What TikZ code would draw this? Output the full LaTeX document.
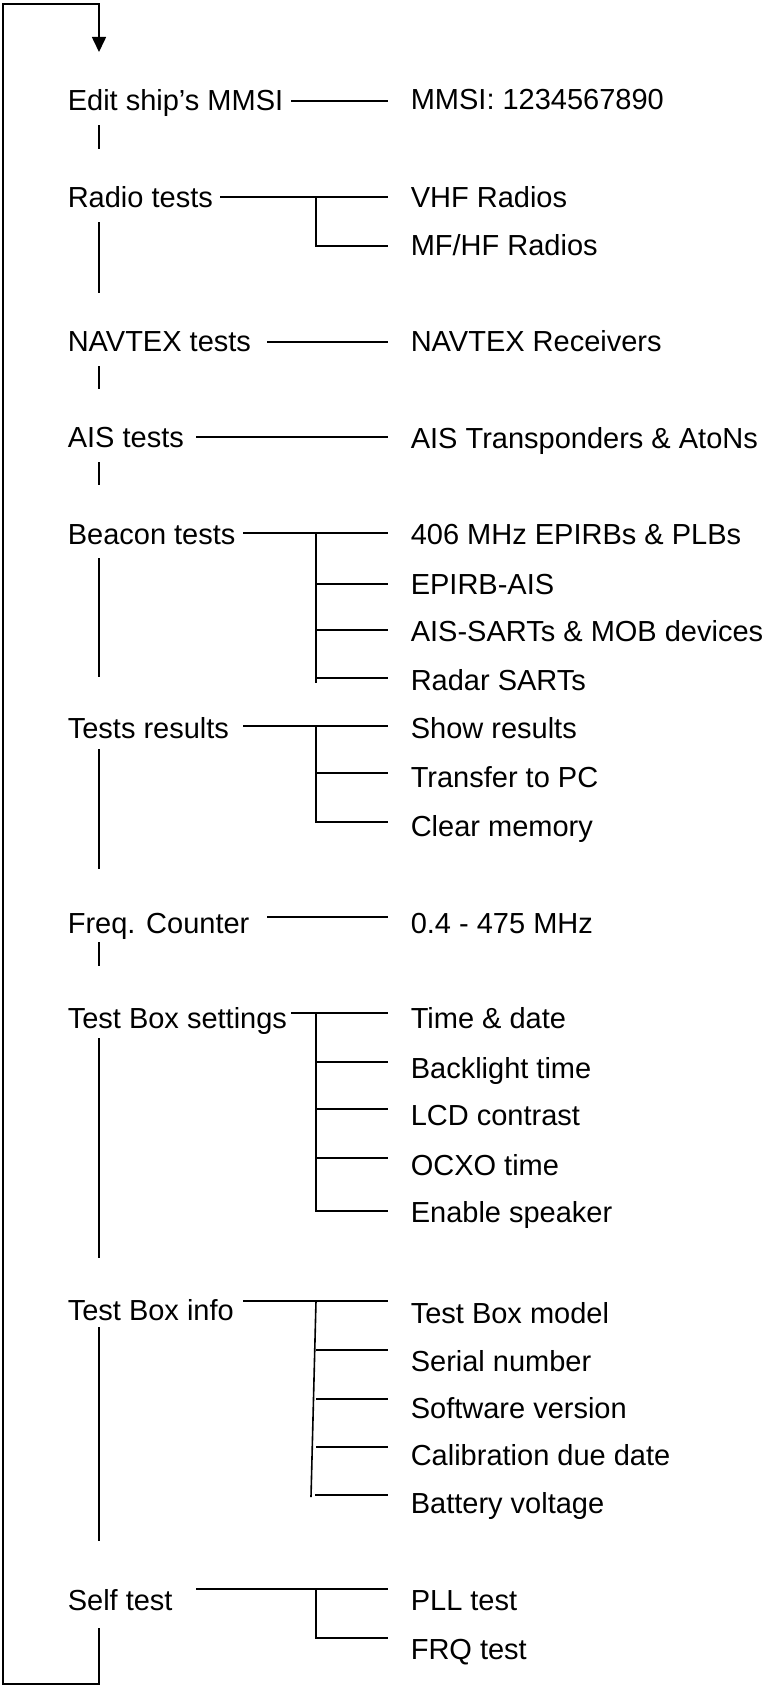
\documentclass[tikz,border=0pt]{standalone}
\usepackage{fontspec}
\setmainfont{Liberation Sans}
\usetikzlibrary{arrows.meta}

\begin{document}
\begin{tikzpicture}[x=1pt, y=-1pt, line width=1.6pt,
    item/.style={anchor=west, inner sep=0pt, text height=20.8pt, text depth=0pt,
                 font=\fontsize{29}{34}\selectfont}]

    \useasboundingbox (0,0) rectangle (770,1686);

    % main menu
    \node[item] (edit)     at (67,100)  {Edit ship’s MMSI};
    \node[item] (radio)    at (67,197)  {Radio tests};
    \node[item] (navtex)   at (67,341)  {NAVTEX tests};
    \node[item] (ais)      at (67,437)  {AIS tests};
    \node[item] (beacon)   at (67,534)  {Beacon tests};
    \node[item] (results)  at (67,728)  {Tests results};
    \node[item] (freq)     at (67,923)  {Freq. Counter};
    \node[item] (settings) at (67,1018) {Test Box settings};
    \node[item] (info)     at (67,1310) {Test Box info};
    \node[item] (selftest) at (67,1600) {Self test};

    % sub menus
    \node[item] (mmsi)     at (410,99)   {MMSI: 1234567890};
    \node[item] (vhf)      at (410,197)  {VHF Radios};
    \node[item] (mfhf)     at (410,245)  {MF/HF Radios};
    \node[item] (navrx)    at (410,341)  {NAVTEX Receivers};
    \node[item] (aisrx)    at (410,438)  {AIS Transponders \& AtoNs};
    \node[item] (epirb)    at (410,534)  {406 MHz EPIRBs \& PLBs};
    \node[item] (epais)    at (410,584)  {EPIRB-AIS};
    \node[item] (aissart)  at (410,631)  {AIS-SARTs \& MOB devices};
    \node[item] (radar)    at (410,680)  {Radar SARTs};
    \node[item] (show)     at (410,728)  {Show results};
    \node[item] (transfer) at (410,777)  {Transfer to PC};
    \node[item] (clear)    at (410,826)  {Clear memory};
    \node[item] (counter)  at (410,923)  {0.4 - 475 MHz};
    \node[item] (clock)    at (410,1018) {Time \& date};
    \node[item] (backlight) at (410,1068) {Backlight time};
    \node[item] (lcd)      at (410,1115) {LCD contrast};
    \node[item] (ocxo)     at (410,1165) {OCXO time};
    \node[item] (speaker)  at (410,1212) {Enable speaker};
    \node[item] (model)    at (410,1313) {Test Box model};
    \node[item] (serial)   at (410,1361) {Serial number};
    \node[item] (software) at (410,1408) {Software version};
    \node[item] (calib)    at (410,1455) {Calibration due date};
    \node[item] (battery)  at (410,1503) {Battery voltage};
    \node[item] (pll)      at (410,1600) {PLL test};
    \node[item] (frq)      at (410,1649) {FRQ test};

    % menu to sub menu
    \draw ([shift={(224,1)}]edit.west)     -- ([shift={(-22,2)}]mmsi.west);
    \draw ([shift={(153,0)}]radio.west)    -- ([shift={(-22,0)}]vhf.west);
    \draw ([shift={(200,1)}]navtex.west)   -- ([shift={(-22,1)}]navrx.west);
    \draw ([shift={(129,0)}]ais.west)      -- ([shift={(-22,-1)}]aisrx.west);
    \draw ([shift={(176,-1)}]beacon.west)  -- ([shift={(-22,-1)}]epirb.west);
    \draw ([shift={(176,-2)}]results.west) -- ([shift={(-22,-2)}]show.west);
    \draw ([shift={(200,-6)}]freq.west)    -- ([shift={(-22,-6)}]counter.west);
    \draw ([shift={(224,-5)}]settings.west) -- ([shift={(-22,-5)}]clock.west);
    \draw ([shift={(176,-9)}]info.west)    -- ([shift={(-22,-12)}]model.west);
    \draw ([shift={(129,-11)}]selftest.west) -- ([shift={(-22,-11)}]pll.west);

    % brackets
    \draw ([shift={(-94,0)}]vhf.west) |- ([shift={(-22,1)}]mfhf.west);

    \draw ([shift={(-94,-1)}]epirb.west) -- ([shift={(-94,3)}]radar.west);
    \draw ([shift={(-94,0)}]epais.west)   -- ([shift={(-22,0)}]epais.west);
    \draw ([shift={(-94,-1)}]aissart.west) -- ([shift={(-22,-1)}]aissart.west);
    \draw ([shift={(-94,-2)}]radar.west)  -- ([shift={(-22,-2)}]radar.west);

    \draw ([shift={(-94,-2)}]show.west) |- ([shift={(-22,-4)}]clear.west);
    \draw ([shift={(-94,-4)}]transfer.west) -- ([shift={(-22,-4)}]transfer.west);

    \draw ([shift={(-94,-5)}]clock.west) |- ([shift={(-22,-1)}]speaker.west);
    \draw ([shift={(-94,-6)}]backlight.west) -- ([shift={(-22,-6)}]backlight.west);
    \draw ([shift={(-94,-6)}]lcd.west)   -- ([shift={(-22,-6)}]lcd.west);
    \draw ([shift={(-94,-7)}]ocxo.west)  -- ([shift={(-22,-7)}]ocxo.west);

    \draw ([shift={(-94,-12)}]model.west) -- ([shift={(-99,-6)}]battery.west);
    \draw ([shift={(-94,-11)}]serial.west)   -- ([shift={(-22,-11)}]serial.west);
    \draw ([shift={(-94,-9)}]software.west)  -- ([shift={(-22,-9)}]software.west);
    \draw ([shift={(-94,-8)}]calib.west)     -- ([shift={(-22,-8)}]calib.west);
    \draw ([shift={(-95,-8)}]battery.west)   -- ([shift={(-22,-8)}]battery.west);

    \draw ([shift={(-94,-11)}]pll.west) |- ([shift={(-22,-11)}]frq.west);

    % menu sequence
    \draw ([shift={(32,25)}]edit.west)     -- ([shift={(32,-48)}]radio.west);
    \draw ([shift={(32,25)}]radio.west)    -- ([shift={(32,-48)}]navtex.west);
    \draw ([shift={(32,25)}]navtex.west)   -- ([shift={(32,-48)}]ais.west);
    \draw ([shift={(32,25)}]ais.west)      -- ([shift={(32,-49)}]beacon.west);
    \draw ([shift={(32,24)}]beacon.west)   -- ([shift={(32,-51)}]results.west);
    \draw ([shift={(32,21)}]results.west)  -- ([shift={(32,-54)}]freq.west);
    \draw ([shift={(32,19)}]freq.west)     -- ([shift={(32,-52)}]settings.west);
    \draw ([shift={(32,20)}]settings.west) -- ([shift={(32,-52)}]info.west);
    \draw ([shift={(32,17)}]info.west)     -- ([shift={(32,-59)}]selftest.west);

    % back to the top
    \draw[-{Triangle[width=14pt,length=15pt]}] ([shift={(32,28)}]selftest.west)
        -- ++(0,56) -| (3,4) -| ([shift={(32,-48)}]edit.west);

\end{tikzpicture}
\end{document}
